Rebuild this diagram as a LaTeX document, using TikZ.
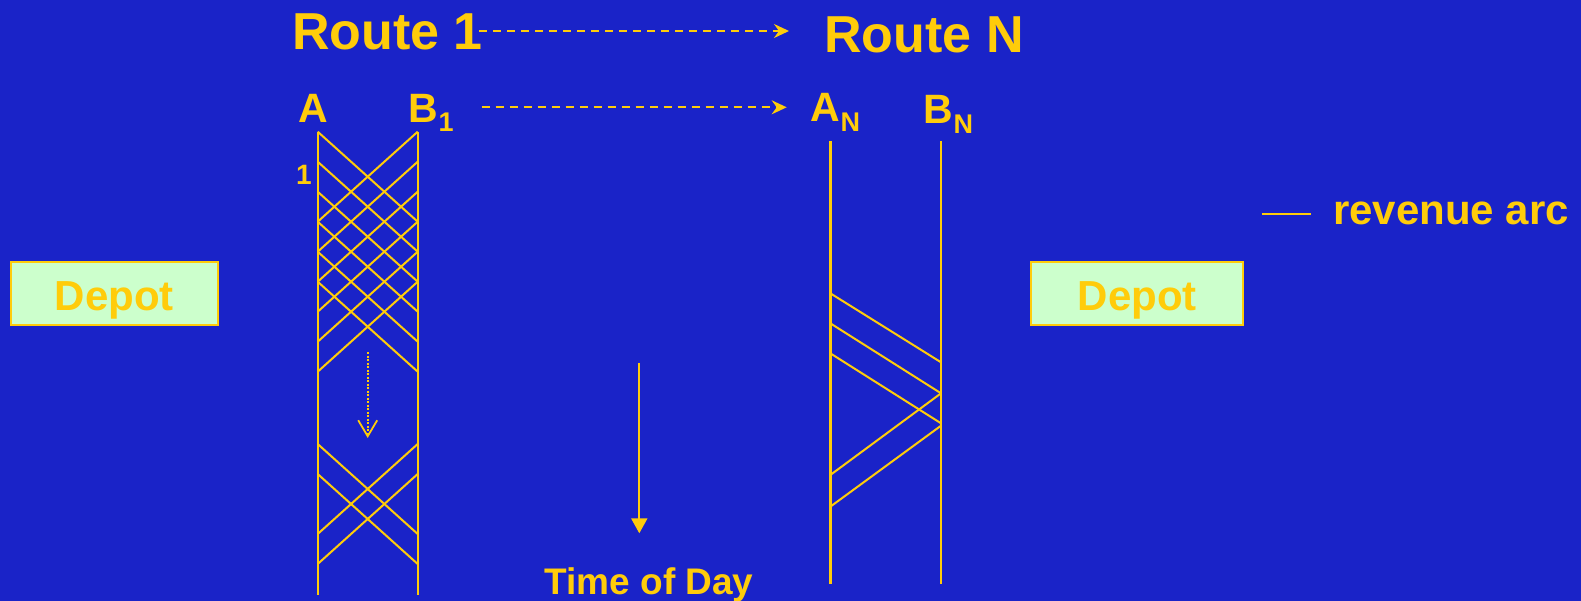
\documentclass[tikz,border=0pt]{standalone}
\usepackage{fontspec}
\setmainfont{Liberation Sans}
\usetikzlibrary{arrows.meta}
\definecolor{bg}{RGB}{26,35,200}
\definecolor{gold}{RGB}{255,204,10}
\definecolor{mint}{RGB}{204,255,204}
\newcommand\fsz[1]{\fontsize{#1}{#1}\selectfont\bfseries}

\begin{document}
\begin{tikzpicture}[x=1pt,y=-1pt,
  lbl/.style={text=gold,inner sep=0pt},
  track/.style={draw=gold,line width=2.4pt},
  arc/.style={draw=gold,line width=2pt},
  depotbox/.style={draw=gold,fill=mint,line width=2pt,text=gold,inner sep=0pt,
    font=\fsz{42},text height=34pt,text depth=0pt,minimum height=62.7pt},
  flow/.style={draw=gold,line width=1.8pt,dash pattern=on 8pt off 6pt,
    -{Stealth[length=15pt,width=14pt,inset=5pt]}}
]
\fill[bg] (0,0) rectangle (1581,601);
\useasboundingbox (0,0) rectangle (1581,601);

% headings
\node[lbl,anchor=base,font=\fsz{52}] (r1) at (387.5,49.4) {Route 1};
\node[lbl,anchor=base,font=\fsz{52}] (rN) at (924,52.7) {Route N};
\node[lbl,anchor=base west,font=\fsz{41}] (lA) at (298,122.7) {A};
\node[lbl,anchor=base west,font=\fsz{41}] (lB1) at (408.7,122.7) {B\raisebox{-9pt}{\fsz{27}1}};
\node[lbl,anchor=base west,font=\fsz{41}] (lAN) at (810.7,121.7) {A\raisebox{-10pt}{\fsz{27}N}};
\node[lbl,anchor=base west,font=\fsz{41}] (lBN) at (923.7,123.3) {B\raisebox{-10.7pt}{\fsz{27}N}};
\node[lbl,anchor=base,font=\fsz{28}] (one) at (304,185) {1};

% dashed arrows between the routes
\coordinate (f1s) at (479,31);   \coordinate (f1e) at (789,31);
\coordinate (f2s) at (481.7,107.3); \coordinate (f2e) at (786.7,107.3);
\draw[flow] (f1s) -- (f1e);
\draw[flow] (f2s) -- (f2e);

% route 1 terminals
\coordinate (A1t) at (317.7,131.7); \coordinate (A1b) at (317.7,595);
\coordinate (B1t) at (417.7,131.7); \coordinate (B1b) at (417.7,595);
\draw[track] (A1t) -- (A1b);
\draw[track] (B1t) -- (B1b);
\foreach \i in {0,...,5}{
  \pgfmathsetmacro\yy{131.7+30*\i}
  \draw[arc] (317.7,\yy) -- (417.7,\yy+90);
  \draw[arc] (417.7,\yy) -- (317.7,\yy+90);
}
\foreach \yy in {444,474}{
  \draw[arc] (317.7,\yy) -- (417.7,\yy+90);
  \draw[arc] (417.7,\yy) -- (317.7,\yy+90);
}
\coordinate (gs) at (367.7,352); \coordinate (ge) at (367.7,438);
\draw[draw=gold,line width=2pt,dash pattern=on 2pt off 1.5pt,
  -{Straight Barb[length=16pt,width=19pt,line width=1.8pt]}] (gs) -- (ge);

% route N terminals
\coordinate (ANt) at (830.3,141); \coordinate (ANb) at (830.3,584.3);
\coordinate (BNt) at (941,141);   \coordinate (BNb) at (941,584.3);
\draw[track] (ANt) -- (ANb);
\draw[track] (BNt) -- (BNb);
\draw[arc] (830.3,293.3) -- (941,362.3);
\draw[arc] (830.3,323.3) -- (941,393.3);
\draw[arc] (830.3,353.3) -- (941,423.3);
\draw[arc] (830.3,475) -- (941,393.3);
\draw[arc] (830.3,506.7) -- (941,425.7);

% time axis
\coordinate (ts) at (639.3,362.7); \coordinate (te) at (639.3,533.3);
\draw[draw=gold,line width=2.2pt,-{Triangle[length=15pt,width=16pt]}] (ts) -- (te);
\node[lbl,anchor=base,font=\fsz{37}] (tod) at (649,594) {Time of Day};

% depots
\node[depotbox,minimum width=207pt] (depotL) at (114.2,293.7) {Depot};
\node[depotbox,minimum width=211.5pt] (depotR) at (1137.2,293.2) {Depot};

% legend
\coordinate (lg1) at (1261.7,214.3); \coordinate (lg2) at (1310.7,214.3);
\draw[draw=gold,line width=2pt] (lg1) -- (lg2);
\node[lbl,anchor=base west,font=\fsz{42}] (rev) at (1333,225) {revenue arc};
\end{tikzpicture}
\end{document}
